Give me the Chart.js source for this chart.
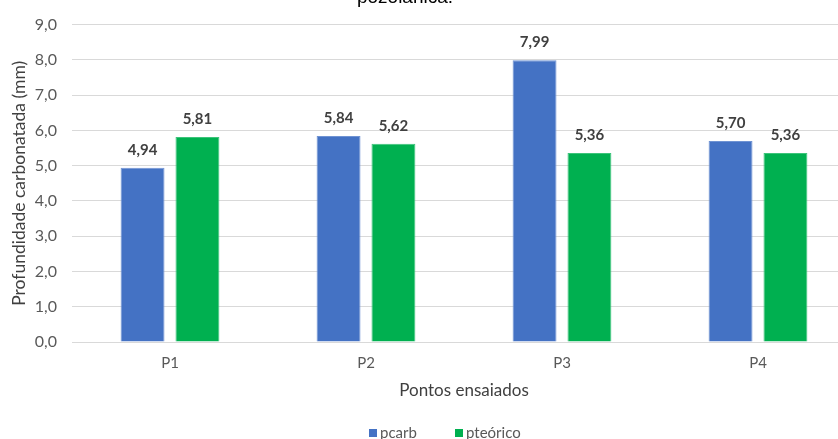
<!DOCTYPE html>
<html>
<head>
<meta charset="utf-8">
<script src="https://cdn.jsdelivr.net/npm/chart.js@4"></script>
<style>
  html, body { margin: 0; padding: 0; background: #ffffff; overflow: hidden; }
  #wrap { width: 860px; height: 439px; }
</style>
</head>
<body>
<div id="wrap"><canvas id="depth-chart" width="860" height="439"></canvas></div>
<script>
let pontos = ["P1", "P2", "P3", "P4"];
let pcarb = [4.94, 5.84, 7.99, 5.70];
let pteorico = [5.81, 5.62, 5.36, 5.36];
let yTicks = [0, 1, 2, 3, 4, 5, 6, 7, 8, 9];

let fontFamily = "Lato, 'Open Sans', sans-serif";
let textGray = '#595959';

let fmt = (v, d) => v.toFixed(d).replace('.', ',');

// title line (the first line sits above the visible area)
let titlePlugin = {
    id: 'titleLine',
    afterDraw: (chart) => {
        let ctx = chart.ctx;
        ctx.save();
        ctx.font = "19px 'Liberation Sans', Arial, sans-serif";
        ctx.fillStyle = '#000000';
        ctx.textAlign = 'center';
        ctx.textBaseline = 'alphabetic';
        ctx.fillText('pozolânica.', 405, 3);
        ctx.restore();
    }
};

// value labels above each bar
let valuePlugin = {
    id: 'valueLabels',
    afterDatasetsDraw: (chart) => {
        let ctx = chart.ctx;
        ctx.save();
        ctx.font = "bold 15px " + fontFamily;
        ctx.fillStyle = '#404040';
        ctx.textAlign = 'center';
        ctx.textBaseline = 'middle';
        chart.data.datasets.forEach((ds, i) => {
            chart.getDatasetMeta(i).data.forEach((bar, j) => {
                ctx.fillText(fmt(ds.data[j], 2), bar.x, bar.y - 18);
            });
        });
        ctx.restore();
    }
};

// legend drawn under the axis title
let legendPlugin = {
    id: 'bottomLegend',
    afterDraw: (chart) => {
        let ctx = chart.ctx;
        let xs = [369, 455];
        ctx.save();
        ctx.font = "15px " + fontFamily;
        ctx.textBaseline = 'middle';
        ctx.textAlign = 'left';
        chart.data.datasets.forEach((ds, i) => {
            ctx.fillStyle = ds.backgroundColor;
            ctx.fillRect(xs[i], 429, 8, 8);
            ctx.fillStyle = textGray;
            ctx.fillText(ds.label, xs[i] + 11, 433);
        });
        ctx.restore();
    }
};

let cfg = {
    type: 'bar',
    data: {
        labels: pontos,
        datasets: [{
            label: 'pcarb',
            data: pcarb,
            backgroundColor: '#4472C4',
            borderColor: '#6f93d3',
            borderWidth: 1,
            categoryPercentage: 0.56,
            barPercentage: 0.8
        },
        {
            label: 'pteórico',
            data: pteorico,
            backgroundColor: '#00B050',
            borderColor: '#3cc47a',
            borderWidth: 1,
            categoryPercentage: 0.56,
            barPercentage: 0.8
        }]
    },
    options: {
        responsive: false,
        animation: false,
        layout: {
            padding: { top: 20, left: 0, right: 4, bottom: 38 }
        },
        plugins: {
            legend: { display: false },
            tooltip: { enabled: false }
        },
        scales: {
            x: {
                grid: { display: false },
                border: { color: '#d9d9d9', width: 1 },
                ticks: {
                    color: textGray,
                    font: { family: fontFamily, size: 15 },
                    padding: 4
                },
                title: {
                    display: true,
                    text: 'Pontos ensaiados',
                    color: '#404040',
                    font: { family: fontFamily, size: 17 },
                    padding: { top: 4, bottom: 0 }
                },
                afterFit: (scale) => { scale.height = 59; }
            },
            y: {
                min: 0,
                max: 9,
                afterBuildTicks: (scale) => {
                    scale.ticks = yTicks.map(v => ({ value: v }));
                },
                grid: { color: '#d9d9d9', drawTicks: false },
                border: { display: false },
                ticks: {
                    color: textGray,
                    font: { family: fontFamily, size: 16 },
                    padding: 15,
                    callback: (v) => fmt(v, 1)
                },
                title: {
                    display: true,
                    text: 'Profundidade carbonatada (mm)',
                    color: '#404040',
                    font: { family: fontFamily, size: 17.5 },
                    padding: { top: 9, bottom: 4 }
                },
                afterFit: (scale) => { scale.width = 72; }
            }
        }
    },
    plugins: [titlePlugin, valuePlugin, legendPlugin]
};

let depthChart = new Chart(document.getElementById('depth-chart'), cfg);
</script>
</body>
</html>
